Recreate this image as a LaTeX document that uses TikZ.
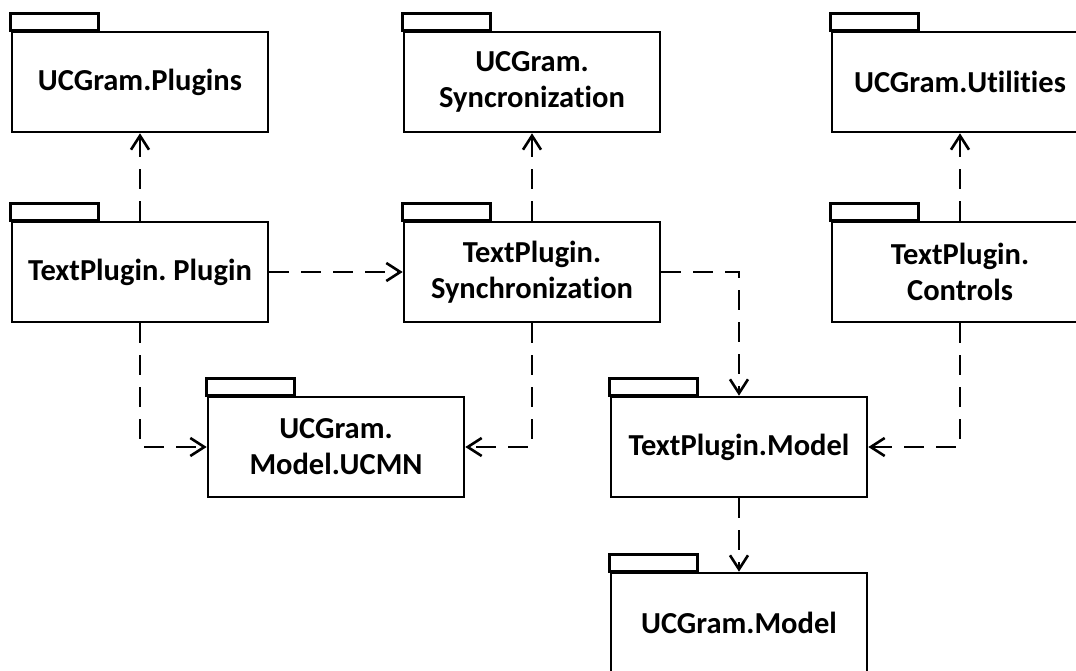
\documentclass[tikz,border=0pt]{standalone}
\usepackage{fontspec}
\setmainfont{Carlito}[Ligatures=NoCommon]
\frenchspacing
\usetikzlibrary{arrows.meta}
\begin{document}
\begin{tikzpicture}[x=1pt,y=-1pt,
  pkg/.style={draw, line width=2.6pt, minimum width=256pt, minimum height=100pt,
    inner sep=0pt, align=center, font=\bfseries\fontsize{30.5}{36}\selectfont,
    append after command={\pgfextra{\draw[line width=2.6pt] (\tikzlastnode.north west) rectangle ++(88,-17);}}},
  dep/.style={line width=2.6pt, dash pattern=on 20pt off 12pt,
    -{Straight Barb[length=14pt,width=18pt,line width=2.6pt]}}]
\useasboundingbox (0,0) rectangle (1076,671);
\clip (0,0) rectangle (1076,671);
\fill[white] (0,0) rectangle (1076,671);
\node[pkg] (ucp) at (140,82) {UCGram.Plugins};
\node[pkg] (ucs) at (532,82) {UCGram.\\Syncronization};
\node[pkg] (ucu) at (960,82) {UCGram.Utilities};
\node[pkg] (tpp) at (140,272) {TextPlugin. Plugin};
\node[pkg] (tps) at (532,272) {TextPlugin.\\Synchronization};
\node[pkg] (tpc) at (960,272) {TextPlugin.\\Controls};
\node[pkg] (ucmn) at (336,447) {UCGram.\\Model.UCMN};
\node[pkg] (tpm) at (739,447) {TextPlugin.Model};
\node[pkg] (ucm) at (739,623) {UCGram.Model};
\draw[dep] (tpp.north) -- (ucp.south);
\draw[dep] (tps.north) -- (ucs.south);
\draw[dep] (tpc.north) -- (ucu.south);
\draw[dep] (tpp.east) -- (tps.west);
\draw[dep] (tpp.south) |- (ucmn.west);
\draw[dep] (tps.south) |- (ucmn.east);
\draw[dep] (tps.east) -| (tpm.north);
\draw[dep] (tpc.south) |- (tpm.east);
\draw[dep] (tpm.south) -- (ucm.north);
\end{tikzpicture}
\end{document}
